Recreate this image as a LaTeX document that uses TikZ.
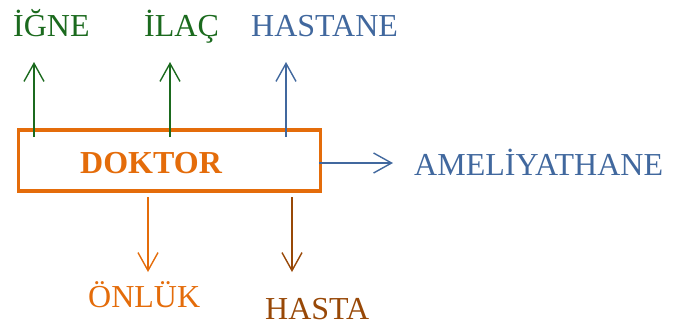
\documentclass[tikz,border=0pt]{standalone}
\usepackage{fontspec}
\setmainfont{Liberation Serif}
\usetikzlibrary{arrows.meta}
\definecolor{cgreen}{HTML}{1B6A1E}
\definecolor{cblue}{HTML}{41689E}
\definecolor{corange}{HTML}{E46C0A}
\definecolor{cbrown}{HTML}{984807}
\begin{document}
\begin{tikzpicture}[x=1pt,y=-1pt,
  lbl/.style={anchor=base west,inner sep=0pt,font=\fontsize{32}{36}\selectfont},
  arr/.style={line width=1.4pt,-{Straight Barb[length=18pt,width=20pt,line width=1.4pt]}}]
\useasboundingbox (0,0) rectangle (677,325);
\node[draw=corange,line width=3.5pt,minimum width=302pt,minimum height=61pt,inner sep=0pt] (box) at (169.5,160.5) {};
\node[lbl,text=corange,font=\fontsize{32}{36}\selectfont\bfseries] (dok) at (80,173) {DOKTOR};
\node[lbl,text=cgreen] (igne) at (13,36) {İĞNE};
\node[lbl,text=cgreen] (ilac) at (144,36) {İLAÇ};
\node[lbl,text=cblue] (hastane) at (251,36) {HASTANE};
\node[lbl,text=cblue] (amel) at (414,175) {AMELİYATHANE};
\node[lbl,text=corange] (onluk) at (88,307) {ÖNLÜK};
\node[lbl,text=cbrown] (hasta) at (265,319) {HASTA};
\coordinate (a1) at (34,137); \coordinate (b1) at (34,62);
\coordinate (a2) at (170,137); \coordinate (b2) at (170,62);
\coordinate (a3) at (286,137); \coordinate (b3) at (286,62);
\coordinate (a4) at (319,163); \coordinate (b4) at (393,163);
\coordinate (a5) at (148,197); \coordinate (b5) at (148,272);
\coordinate (a6) at (292,197); \coordinate (b6) at (292,272);
\draw[arr,cgreen] (a1) -- (b1);
\draw[arr,cgreen] (a2) -- (b2);
\draw[arr,cblue] (a3) -- (b3);
\draw[arr,cblue] (a4) -- (b4);
\draw[arr,corange] (a5) -- (b5);
\draw[arr,cbrown] (a6) -- (b6);
\end{tikzpicture}
\end{document}
